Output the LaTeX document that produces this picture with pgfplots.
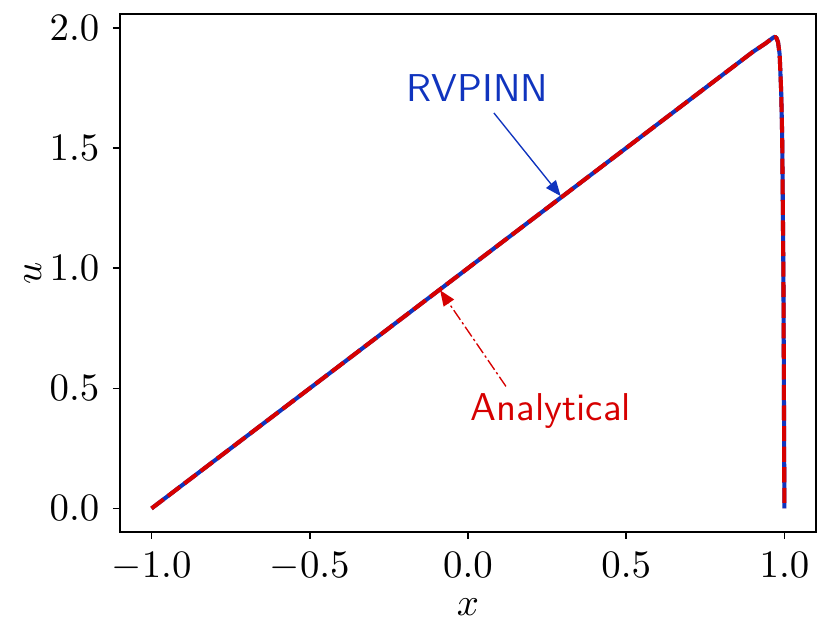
\documentclass[border=0pt]{standalone}
\usepackage{pgfplots}
\pgfplotsset{compat=1.18}
\usetikzlibrary{arrows.meta,calc}

\definecolor{rvblue}{RGB}{16,52,190}
\definecolor{anred}{RGB}{214,0,0}

\begin{document}
\begin{tikzpicture}
\begin{axis}[
    name=ax,
    scale only axis,
    width=179.4pt,
    height=133.5pt,
    xmin=-1.1, xmax=1.1,
    ymin=-0.098, ymax=2.058,
    xtick={-1,-0.5,0,0.5,1},
    ytick={0,0.5,1,1.5,2},
    tick align=outside,
    tick style={black, line width=0.4pt},
    major tick length=1.8pt,
    xtick pos=bottom, ytick pos=left,
    xticklabel style={/pgf/number format/.cd, fixed, fixed zerofill, precision=1},
    yticklabel style={/pgf/number format/.cd, fixed, fixed zerofill, precision=1},
    axis line style={line width=0.4pt},
    xlabel={$x$},
    ylabel={$u$},
    every axis x label/.style={at={(axis description cs:0.5,-0.145)}, anchor=center},
    every axis y label/.style={at={(axis description cs:-0.125,0.5)}, anchor=center, rotate=90},
    clip=false,
]

% RVPINN (solid, underneath)
\addplot[rvblue, line width=1.05pt, line join=round] coordinates {
    (-1.0,0.0) (0.9,1.9) (0.94,1.935) (0.955,1.95) (0.965,1.96)
    (0.970,1.963) (0.975,1.958) (0.98,1.94) (0.985,1.89) (0.99,1.73)
    (0.993,1.55) (0.995,1.27) (0.997,0.95) (0.998,0.66) (0.999,0.33) (1.0,0.0)
};

% Analytical (dashed, on top)
\addplot[anred, line width=1.05pt, line join=round, dash pattern=on 3.9pt off 1.4pt] coordinates {
    (-1.0,0.0) (0.9,1.9) (0.94,1.935) (0.955,1.95) (0.965,1.96)
    (0.970,1.963) (0.975,1.958) (0.98,1.94) (0.985,1.89) (0.99,1.73)
    (0.993,1.55) (0.995,1.27) (0.997,0.95) (0.998,0.66) (0.999,0.33) (1.0,0.0)
};

% annotations
\node[rvblue, font=\sffamily] at (axis cs:0.03,1.75) {RVPINN};
\draw[rvblue, line width=0.35pt, -{Triangle[length=4pt,width=3.2pt]}]
    (axis cs:0.082,1.646) -- (axis cs:0.293,1.30);

\node[anred, font=\sffamily] at (axis cs:0.262,0.405) {Analytical};
\draw[anred, line width=0.35pt, dash pattern=on 3pt off 0.8pt on 0.6pt off 0.8pt, -{Triangle[length=4pt,width=3.2pt]}]
    (axis cs:0.12,0.508) -- (axis cs:-0.088,0.908);
\end{axis}
\pgfresetboundingbox
\path ($(ax.south west)+(-30.9pt,-28.1pt)$) rectangle ($(ax.north east)+(3.6pt,3.6pt)$);
\end{tikzpicture}
\end{document}
